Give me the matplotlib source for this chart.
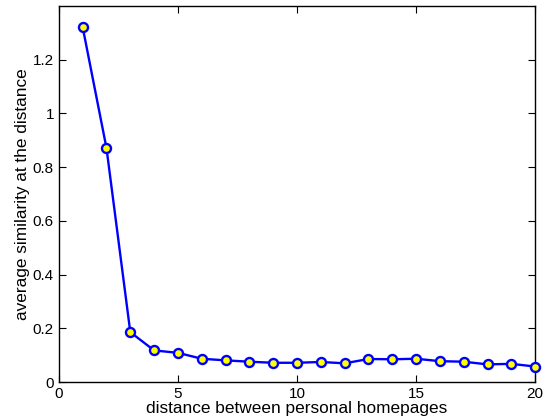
import numpy as np
import matplotlib
matplotlib.use('Agg')
import matplotlib.pyplot as plt

plt.rcParams['font.family'] = ['Liberation Sans', 'DejaVu Sans']

distance = np.arange(1, 21)
similarity = [1.321, 0.871, 0.186, 0.118, 0.109, 0.087, 0.081, 0.076, 0.072, 0.072,
              0.075, 0.070, 0.086, 0.085, 0.087, 0.078, 0.076, 0.066, 0.068, 0.058]

fig = plt.figure(figsize=(5.5, 4.19), dpi=100)
ax = fig.add_axes([0.107, 0.088, 0.866, 0.898])
ax.plot(distance, similarity, color='#0000ff', linewidth=1.7, marker='o',
        markersize=6.5, markerfacecolor='#ffff00', markeredgecolor='#0000ff',
        markeredgewidth=1.7, clip_on=False, zorder=3)
ax.set_xlim(0, 20)
ax.set_ylim(0, 1.4)
ax.set_xticks([0, 5, 10, 15, 20])
ax.set_yticks([0, 0.2, 0.4, 0.6, 0.8, 1, 1.2])
ax.set_yticklabels(['0', '0.2', '0.4', '0.6', '0.8', '1', '1.2'])
ax.tick_params(direction='in', top=True, right=True, labelsize=11, length=5)
for s in ax.spines.values():
    s.set_linewidth(1.0)
ax.set_xlabel('distance between personal homepages', fontsize=12.4, labelpad=0)
ax.set_ylabel('average similarity at the distance', fontsize=12.4, labelpad=2)
fig.savefig('out.png', dpi=100)
